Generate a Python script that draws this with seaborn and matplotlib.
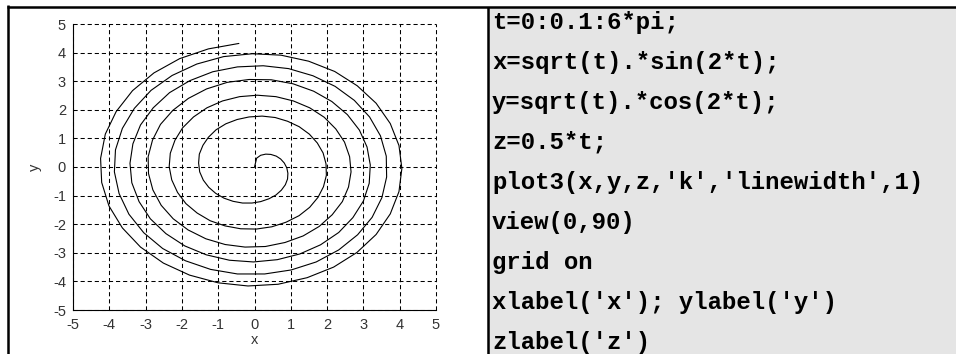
import matplotlib.pyplot as plt
import matplotlib.patches as mpatches
import matplotlib.lines as mlines
import seaborn as sns


# spiral points (top view of the plot3 curve)
spiral_x = [0.00, 0.06, 0.17, 0.31, 0.45, 0.60, 0.72, 0.82, 0.89, 0.92,
            0.91, 0.85, 0.74, 0.59, 0.40, 0.17, -0.07, -0.33, -0.59, -0.84,
            -1.07, -1.26, -1.41, -1.51, -1.54, -1.52, -1.42, -1.27, -1.06, -0.79,
            -0.48, -0.15, 0.21, 0.57, 0.91, 1.23, 1.51, 1.73, 1.89, 1.97,
            1.98, 1.90, 1.75, 1.52, 1.23, 0.87, 0.48, 0.05, -0.38, -0.81,
            -1.22, -1.58, -1.89, -2.12, -2.28, -2.35, -2.32, -2.19, -1.98, -1.68,
            -1.31, -0.88, -0.41, 0.08, 0.59, 1.07, 1.52, 1.92, 2.24, 2.48,
            2.62, 2.66, 2.59, 2.42, 2.14, 1.78, 1.34, 0.84, 0.30, -0.26,
            -0.81, -1.34, -1.83, -2.24, -2.57, -2.80, -2.92, -2.93, -2.81, -2.59,
            -2.25, -1.82, -1.32, -0.75, -0.15, 0.46, 1.06, 1.63, 2.13, 2.56,
            2.89, 3.10, 3.19, 3.16, 3.00, 2.71, 2.32, 1.82, 1.25, 0.63,
            -0.03, -0.69, -1.33, -1.92, -2.44, -2.87, -3.18, -3.38, -3.43, -3.35,
            -3.14, -2.79, -2.34, -1.78, -1.15, -0.47, 0.24, 0.94, 1.61, 2.22,
            2.75, 3.17, 3.47, 3.63, 3.64, 3.51, 3.24, 2.84, 2.32, 1.70,
            1.01, 0.28, -0.47, -1.21, -1.90, -2.53, -3.05, -3.46, -3.73, -3.86,
            -3.83, -3.64, -3.31, -2.85, -2.27, -1.59, -0.85, -0.06, 0.73, 1.49,
            2.21, 2.83, 3.35, 3.74, 3.98, 4.06, 3.98, 3.74, 3.35, 2.82,
            2.18, 1.45, 0.65, -0.18, -1.00, -1.79, -2.51, -3.14, -3.64, -4.01,
            -4.21, -4.24, -4.11, -3.81, -3.36, -2.77, -2.06, -1.27, -0.43]
spiral_y = [0.00, 0.31, 0.41, 0.45, 0.44, 0.38, 0.28, 0.14, -0.03, -0.22,
            -0.42, -0.62, -0.81, -0.98, -1.11, -1.21, -1.26, -1.26, -1.20, -1.09,
            -0.92, -0.71, -0.46, -0.17, 0.14, 0.45, 0.76, 1.04, 1.30, 1.51,
            1.66, 1.75, 1.78, 1.73, 1.60, 1.41, 1.15, 0.84, 0.49, 0.11,
            -0.29, -0.69, -1.06, -1.41, -1.70, -1.93, -2.09, -2.17, -2.16, -2.06,
            -1.88, -1.61, -1.28, -0.89, -0.45, 0.01, 0.48, 0.94, 1.37, 1.75,
            2.07, 2.31, 2.46, 2.51, 2.46, 2.31, 2.07, 1.74, 1.33, 0.87,
            0.36, -0.17, -0.70, -1.21, -1.67, -2.08, -2.41, -2.64, -2.78, -2.80,
            -2.71, -2.51, -2.20, -1.81, -1.34, -0.80, -0.23, 0.36, 0.94, 1.49,
            1.98, 2.40, 2.73, 2.96, 3.06, 3.05, 2.91, 2.65, 2.29, 1.83,
            1.29, 0.70, 0.07, -0.57, -1.19, -1.77, -2.29, -2.72, -3.04, -3.24,
            -3.32, -3.26, -3.07, -2.76, -2.33, -1.81, -1.21, -0.55, 0.13, 0.81,
            1.47, 2.07, 2.60, 3.02, 3.33, 3.50, 3.54, 3.44, 3.19, 2.82,
            2.33, 1.75, 1.09, 0.38, -0.35, -1.07, -1.76, -2.37, -2.90, -3.32,
            -3.60, -3.74, -3.74, -3.58, -3.28, -2.85, -2.30, -1.65, -0.93, -0.17,
            0.60, 1.35, 2.05, 2.68, 3.20, 3.60, 3.86, 3.96, 3.91, 3.70,
            3.34, 2.84, 2.23, 1.52, 0.75, -0.05, -0.86, -1.64, -2.36, -2.99,
            -3.50, -3.87, -4.10, -4.16, -4.05, -3.78, -3.36, -2.80, -2.13, -1.36,
            -0.54, 0.30, 1.15, 1.94, 2.67, 3.29, 3.79, 4.13, 4.32]

tick_values = [-5, -4, -3, -2, -1, 0, 1, 2, 3, 4, 5]

code_lines = ["t=0:0.1:6*pi;",
              "x=sqrt(t).*sin(2*t);",
              "y=sqrt(t).*cos(2*t);",
              "z=0.5*t;",
              "plot3(x,y,z,'k','linewidth',1)",
              "view(0,90)",
              "grid on",
              "xlabel('x'); ylabel('y')",
              "zlabel('z')"]

W, H = 956, 354

sns.set_style('white')
plt.rcParams['font.family'] = ['Liberation Sans', 'DejaVu Sans']

fig = plt.figure(figsize=(W / 100, H / 100), dpi=100)

# right hand cell with grey background
top = 1 - 6.5 / H
fig.add_artist(mpatches.Rectangle((488 / W, 0), 1 - 488 / W, top,
                                  transform=fig.transFigure,
                                  facecolor='#e5e5e5', edgecolor='none', zorder=0))
# table frame
frame = [((8 / W, 8 / W), (0, top + 1.2 / H)),
         ((488 / W, 488 / W), (0, top)),
         ((6.8 / W, 1), (top, top))]
for xs, ys in frame:
    fig.add_artist(mlines.Line2D(xs, ys, transform=fig.transFigure,
                                 color='k', lw=1.8, solid_capstyle='butt'))

# plot on the left
ax = fig.add_axes([73 / W, (H - 310) / H, 363 / W, 286 / H])
sns.lineplot(x=spiral_x, y=spiral_y, sort=False, estimator=None,
             color='k', lw=0.8, ax=ax)
ax.set_xlim(-5, 5)
ax.set_ylim(-5, 5)
ax.set_xticks(tick_values)
ax.set_yticks(tick_values)
ax.set_xticklabels([str(v) for v in tick_values])
ax.set_yticklabels([str(v) for v in tick_values])
ax.grid(True, color='k', lw=0.75, linestyle=(0, (4, 2.8)))
for gl in ax.get_xgridlines() + ax.get_ygridlines():
    gl.set_clip_on(False)
sns.despine(ax=ax)
for side in ['left', 'bottom']:
    ax.spines[side].set_color('k')
    ax.spines[side].set_linewidth(0.8)
ax.tick_params(direction='in', length=3, width=0.8, color='k',
               labelcolor='#333333', labelsize=10.5)
ax.tick_params(axis='x', pad=5.5)
ax.tick_params(axis='y', pad=5)
ax.set_xlabel('x', fontsize=10.5, color='#333333', va='center')
ax.set_ylabel('y', fontsize=10.5, color='#333333', va='center')
ax.xaxis.set_label_coords(0.5, (310 - 340) / 286)
ax.yaxis.set_label_coords((35 - 73) / 363, 0.5)

# code on the right
for k, line in enumerate(code_lines):
    fig.text(492 / W, 1 - (22 + 40 * k) / H, line,
             family=['Liberation Mono', 'DejaVu Sans Mono'], weight='bold',
             fontsize=17.3, va='center', ha='left', color='k')

fig.savefig('out.png', dpi=100)
